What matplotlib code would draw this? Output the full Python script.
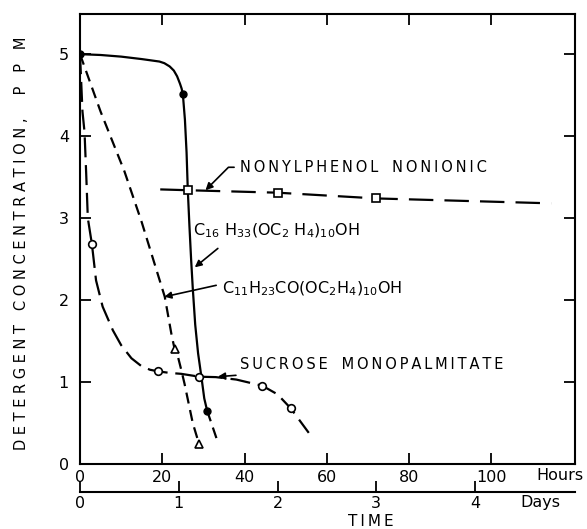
import matplotlib
matplotlib.use("Agg")
import matplotlib.pyplot as plt

# traced curves (hours, ppm)
c16_h = [0, 5, 10, 15, 19.3, 20.5, 21.8, 22.8, 23.6, 24.3, 24.7, 25, 25.5, 25.9, 26.2, 26.6, 27.0, 27.4, 28.0, 28.7, 29.5, 30.2, 30.9]
c16_y = [5.0, 4.99, 4.97, 4.94, 4.91, 4.89, 4.85, 4.80, 4.73, 4.64, 4.58, 4.51, 4.2, 3.8, 3.34, 2.9, 2.5, 2.15, 1.7, 1.35, 1.065, 0.8, 0.65]
c16_ext_h = [30.9, 33.4]
c16_ext_y = [0.65, 0.28]
c16_pts_h = [0, 25, 30.9]
c16_pts_y = [5.0, 4.51, 0.65]

c11_h = [0, 5, 10.8, 15, 20.6, 22.2, 23, 23.8, 24.6, 25.4, 27.4, 28.9]
c11_y = [5.0, 4.3, 3.57, 2.95, 2.04, 1.59, 1.4, 1.31, 1.15, 0.98, 0.5, 0.25]
c11_pts_h = [23, 28.9]
c11_pts_y = [1.4, 0.25]

suc_h = [0, 0.6, 1.1, 1.5, 1.9, 2.9, 3.9, 5.5, 8, 10, 12.5, 14.9, 17, 19, 22, 24.6, 29, 33, 38, 44.3, 48, 51.2, 55.6]
suc_y = [5.0, 4.3, 4.05, 3.55, 3.0, 2.68, 2.24, 1.92, 1.63, 1.45, 1.29, 1.195, 1.15, 1.13, 1.11, 1.10, 1.065, 1.06, 1.03, 0.955, 0.85, 0.68, 0.38]
suc_pts_h = [2.9, 19, 29, 44.3, 51.2]
suc_pts_y = [2.68, 1.13, 1.065, 0.955, 0.68]

non_h = [19.5, 26.2, 48, 72, 114.5]
non_y = [3.35, 3.34, 3.31, 3.24, 3.18]
non_pts_h = [26.2, 48, 72]
non_pts_y = [3.34, 3.31, 3.24]

hour_ticks = [0, 20, 40, 60, 80, 100]
day_ticks = [0, 1, 2, 3, 4]
ppm_ticks = [0, 1, 2, 3, 4, 5]

TS = "\u2009"
def spaced(s, gap=TS):
    return gap.join(s)

fig = plt.figure(figsize=(5.87, 5.29), dpi=100)
ax = fig.add_axes([80 / 587, 65 / 529, 495 / 587, 450 / 529])
lw = 1.6
k = "black"

ax.plot(c16_h, c16_y, color=k, lw=lw, solid_capstyle="butt")
ax.plot(c16_ext_h, c16_ext_y, color=k, lw=lw, dashes=(5, 3))
ax.plot(c16_pts_h, c16_pts_y, "o", color=k, ms=5, mec=k, mfc=k)

ax.plot(c11_h, c11_y, color=k, lw=lw, dashes=(5, 3))
ax.plot(c11_pts_h, c11_pts_y, "^", color=k, ms=6, mfc="white", mec=k, mew=1.2)

ax.plot(suc_h, suc_y, color=k, lw=lw, dashes=(9, 3.5))
ax.plot(suc_pts_h, suc_pts_y, "o", ms=5.5, mfc="white", mec=k, mew=1.2)

ax.plot(non_h, non_y, color=k, lw=lw, dashes=(11, 5))
ax.plot(non_pts_h, non_pts_y, "s", ms=5.5, mfc="white", mec=k, mew=1.2)

ax.set_xlim(0, 120.3)
ax.set_ylim(0, 5.49)
for s in ax.spines.values():
    s.set_linewidth(1.5)
ax.set_xticks(hour_ticks)
ax.set_yticks(ppm_ticks)
ax.tick_params(direction="in", length=8, width=1.3, top=True, right=True,
               labelsize=11.5, pad=4)
ax.set_xticklabels([str(h) for h in hour_ticks])
ax.set_yticklabels([str(p) for p in ppm_ticks])
ax.tick_params(axis="y", pad=8)

days = ax.secondary_xaxis(-0.062, functions=(lambda h: h / 24, lambda d: d * 24))
days.set_xticks(day_ticks)
days.tick_params(direction="in", length=8, width=1.3, labelsize=11.5, pad=3)
days.spines["bottom"].set_linewidth(1.5)

fig.text(560 / 587, 1 - 475 / 529, "Hours", fontsize=11.5, ha="center", va="center")
fig.text(540 / 587, 1 - 503 / 529, "Days", fontsize=11.5, ha="center", va="center")
fig.text(371 / 587, 1 - 522 / 529, spaced("TIME"), fontsize=11, ha="center", va="center")
fig.text(22 / 587, 1 - 243 / 529,
         spaced("DETERGENT", " ") + "   " + spaced("CONCENTRATION,", " ") + "     " + spaced("PPM", "   "),
         fontsize=10.5, rotation=90, ha="center", va="center")

tf = dict(fontsize=10.5, va="center", ha="left")
ax.annotate(spaced("NONYLPHENOL") + "   " + spaced("NONIONIC"), xy=(30.5, 3.34), xytext=(38.8, 3.62),
            arrowprops=dict(arrowstyle="-|>", color=k, lw=1.2, shrinkA=2, shrinkB=0,
                            connectionstyle="angle,angleA=0,angleB=45,rad=0"), **tf)
ax.text(27.4, 2.85, r"C$_{16}$ H$_{33}$(OC$_2$ H$_4$)$_{10}$OH", fontsize=11.5, va="center", ha="left")
ax.annotate("", xy=(27.9, 2.40), xytext=(33.5, 2.63),
            arrowprops=dict(arrowstyle="-|>", color=k, lw=1.2, shrinkA=0, shrinkB=0))
ax.text(34.6, 2.14, r"C$_{11}$H$_{23}$CO(OC$_2$H$_4$)$_{10}$OH", fontsize=11.5, va="center", ha="left")
ax.annotate("", xy=(20.5, 2.04), xytext=(33.1, 2.18),
            arrowprops=dict(arrowstyle="-|>", color=k, lw=1.2, shrinkA=0, shrinkB=0))
ax.annotate(spaced("SUCROSE") + "   " + spaced("MONOPALMITATE"), xy=(33.5, 1.065), xytext=(39, 1.21),
            arrowprops=dict(arrowstyle="-|>", color=k, lw=1.2, shrinkA=2, shrinkB=0), **tf)

fig.savefig("out.png", dpi=100)
